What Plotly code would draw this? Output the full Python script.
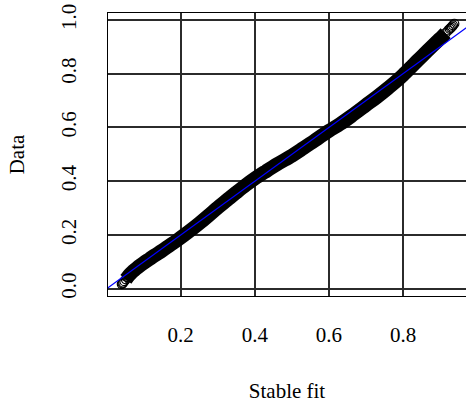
import plotly.graph_objects as go

# P-P plot: fitted stable CDF vs empirical probabilities
fit_p = [0.041, 0.043, 0.045, 0.048, 0.052, 0.056, 0.060, 0.066, 0.072, 0.080,
         0.090, 0.100, 0.115, 0.130, 0.150, 0.170, 0.190, 0.210, 0.230, 0.250,
         0.275, 0.300, 0.325, 0.350, 0.375, 0.400, 0.430, 0.460, 0.500, 0.530,
         0.560, 0.600, 0.630, 0.660, 0.700, 0.730, 0.760, 0.780, 0.800, 0.820,
         0.840, 0.860, 0.880, 0.895, 0.905, 0.915, 0.922, 0.926, 0.929, 0.932,
         0.935, 0.9385]
data_p = [0.0175, 0.020, 0.023, 0.028, 0.035, 0.042, 0.049, 0.058, 0.066, 0.075,
          0.086, 0.096, 0.110, 0.124, 0.142, 0.161, 0.180, 0.200, 0.221, 0.243,
          0.272, 0.302, 0.330, 0.358, 0.385, 0.410, 0.437, 0.463, 0.495, 0.522,
          0.550, 0.587, 0.613, 0.642, 0.683, 0.714, 0.747, 0.770, 0.795, 0.822,
          0.850, 0.877, 0.904, 0.924, 0.937, 0.951, 0.961, 0.967, 0.971, 0.975,
          0.980, 0.986]

# reference line y = x
ref_line = [0.0, 1.0]

x_ticks = [0.2, 0.4, 0.6, 0.8]
y_ticks = [0.0, 0.2, 0.4, 0.6, 0.8, 1.0]

font_family = "Liberation Serif, Times New Roman, serif"

fig = go.Figure()

# dense overlapping circles form a solid band along the curve
band_from, band_to = 4, len(fit_p) - 6
fig.add_trace(go.Scatter(
    x=fit_p[band_from:band_to], y=data_p[band_from:band_to],
    mode="lines",
    line=dict(color="black", width=14, shape="spline"),
    hoverinfo="skip", showlegend=False,
))
fig.add_trace(go.Scatter(
    x=fit_p, y=data_p, mode="markers",
    marker=dict(symbol="circle-open", size=9, color="black",
                line=dict(color="black", width=1.2)),
    showlegend=False,
))
fig.add_trace(go.Scatter(
    x=ref_line, y=ref_line, mode="lines",
    line=dict(color="#0000ff", width=1.2),
    showlegend=False,
))

fig.update_layout(
    width=466, height=405,
    margin=dict(l=108, r=0, t=13, b=109),
    paper_bgcolor="white", plot_bgcolor="white",
    font=dict(family=font_family, size=21, color="black"),
    xaxis=dict(
        range=[0.0038, 0.970],
        tickvals=x_ticks, ticktext=[f"{v:.1f}" for v in x_ticks],
        showgrid=True, gridcolor="#2b2b2b", gridwidth=1.6,
        zeroline=False,
        showline=True, linecolor="black", linewidth=1, mirror=True,
        ticks="outside", ticklen=20, tickcolor="rgba(0,0,0,0)",
        title=dict(text="Stable fit", standoff=37,
                   font=dict(family=font_family, size=21)),
    ),
    yaxis=dict(
        range=[-0.027, 1.026],
        tickvals=y_ticks, ticktext=[f"{v:.1f}" for v in y_ticks],
        tickangle=-90,
        showgrid=True, gridcolor="#2b2b2b", gridwidth=1.6,
        zeroline=False,
        showline=True, linecolor="black", linewidth=1, mirror=False,
        ticks="outside", ticklen=23, tickcolor="rgba(0,0,0,0)",
        title=dict(text="Data", standoff=26,
                   font=dict(family=font_family, size=21)),
    ),
)

fig.write_html("out.html")
